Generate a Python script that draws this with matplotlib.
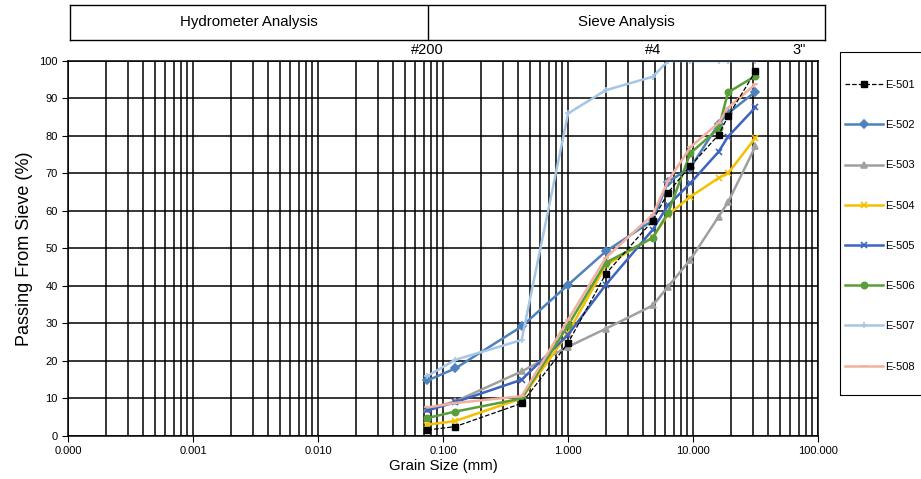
import numpy as np
import matplotlib
matplotlib.use("Agg")
import matplotlib.pyplot as plt
from matplotlib.patches import Rectangle
from matplotlib.ticker import FixedLocator, LogLocator, NullFormatter

plt.rcParams['font.family'] = ['Liberation Sans', 'DejaVu Sans']

# sieve sizes (mm)
sizes = [0.075, 0.125, 0.425, 1.0, 2.0, 4.75, 6.3, 9.5, 16.0, 19.0, 31.5]

e501 = [1.6, 2.5, 8.7, 24.8, 43.2, 57.4, 64.9, 72.0, 80.3, 85.2, 97.2]
e502 = [14.8, 18.0, 29.2, 40.3, 49.2, 57.5, 67.8, 71.5, 83.2, 86.0, 91.8]
e503 = [7.2, 9.2, 17.2, 23.8, 28.6, 34.8, 39.8, 47.0, 58.5, 62.3, 77.2]
e504 = [3.0, 4.0, 10.0, 27.5, 45.5, 53.0, 59.0, 63.8, 68.8, 70.0, 79.5]
e505 = [6.8, 9.0, 15.0, 27.0, 40.3, 55.0, 61.5, 67.4, 75.8, 79.8, 87.6]
e506 = [4.8, 6.5, 10.0, 29.5, 46.2, 52.8, 59.5, 75.4, 82.0, 91.6, 96.0]
e507 = [16.0, 20.3, 25.6, 86.0, 92.2, 95.8, 100, 100, 100, 100, 100]
e508 = [7.6, 8.8, 10.6, 31.0, 47.5, 59.0, 68.0, 77.0, 83.5, 87.5, 93.8]

names = ["E-501", "E-502", "E-503", "E-504", "E-505", "E-506", "E-507", "E-508"]
series = [e501, e502, e503, e504, e505, e506, e507, e508]
colors = ["black", "#4f81bd", "#a0a0a0", "#f5c000", "#3c64c0", "#5a9e3a", "#a6c6e6", "#f1b1a0"]
markers = ["s", "D", "^", "x", "x", "o", "+", "_"]

xticks = [0.0001, 0.001, 0.01, 0.1, 1, 10, 100]
xticklabels = ["0.000", "0.001", "0.010", "0.100", "1.000", "10.000", "100.000"]

sieve_marks = [0.075, 4.75, 70]
sieve_names = ["#200", "#4", '3"']

fig = plt.figure(figsize=(9.21, 4.79), dpi=100)
ax = fig.add_axes([0.0738, 0.0898, 0.8145, 0.7829])

lines = []
for name, vals, c, m in zip(names, series, colors, markers):
    if name == "E-501":
        l, = ax.plot(sizes, vals, color=c, ls="--", lw=0.9, marker=m, ms=4.5, label=name, zorder=10)
    else:
        l, = ax.plot(sizes, vals, color=c, lw=1.8, marker=m, ms=4.5, mew=1.2, label=name)
    lines.append(l)

ax.set_xscale("log")
ax.set_xlim(0.0001, 100)
ax.set_ylim(0, 100)
ax.xaxis.set_major_locator(FixedLocator(xticks))
ax.set_xticklabels(xticklabels, fontsize=8)
ax.xaxis.set_minor_locator(LogLocator(base=10, subs=np.arange(2, 10), numticks=20))
ax.xaxis.set_minor_formatter(NullFormatter())
ax.set_yticks(np.arange(0, 101, 10))
ax.tick_params(axis="y", labelsize=8, length=4, color="black")
ax.tick_params(axis="x", which="major", length=4, color="black")
ax.tick_params(axis="x", which="minor", length=0)

ax.xaxis.grid(True, which="both", color="black", lw=1.1)
ax.yaxis.grid(True, which="major", color="black", lw=1.1)
ax.set_axisbelow(True)
for s in ax.spines.values():
    s.set_color("black")
    s.set_linewidth(1.1)

ax.set_xlabel("Grain Size (mm)", fontsize=10.7, labelpad=2)
ax.set_ylabel("Passing From Sieve (%)", fontsize=13, labelpad=4)

for xs, t in zip(sieve_marks, sieve_names):
    ax.text(xs, 101, t, ha="center", va="bottom", fontsize=10.5)

# header boxes
hx = fig.add_axes([0.076, 0.9165, 0.8198, 0.0731])
hx.set_xlim(0, 1)
hx.set_ylim(0, 1)
hx.set_xticks([])
hx.set_yticks([])
for s in hx.spines.values():
    s.set_linewidth(1.0)
hx.axvline(0.474, color="black", lw=1.0)
hx.text(0.237, 0.5, "Hydrometer Analysis", ha="center", va="center", fontsize=10.8)
hx.text(0.737, 0.5, "Sieve Analysis", ha="center", va="center", fontsize=10.8)

# legend with its own frame
frame = Rectangle((840 / 921, 1 - 395 / 479), 90 / 921, 343 / 479, transform=fig.transFigure,
                  fill=False, edgecolor="black", lw=0.8)
fig.add_artist(frame)
leg = fig.legend(handles=lines, loc="upper left", bbox_to_anchor=(845 / 921, 1 - 80 / 479),
                 fontsize=8, labelspacing=2.72, handlelength=3.4, handletextpad=0.25,
                 borderpad=0, borderaxespad=0, frameon=False)

fig.savefig("out.png", dpi=100)
